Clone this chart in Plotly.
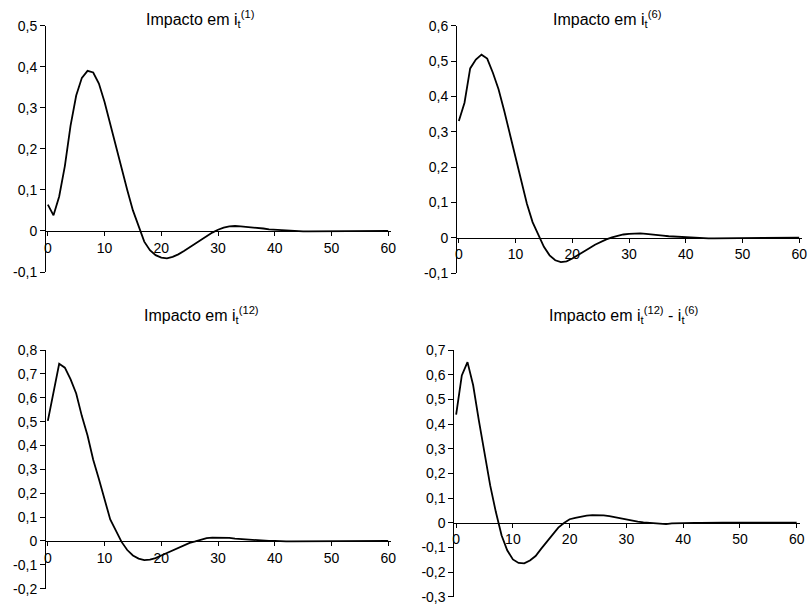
import plotly.graph_objects as go

lags = list(range(61))
x_tick_vals = [0, 10, 20, 30, 40, 50, 60]
x_tick_text = ["0", "10", "20", "30", "40", "50", "60"]

impact_1 = [0.064, 0.038, 0.084, 0.158, 0.256, 0.33, 0.373, 0.39, 0.386, 0.359,
            0.314, 0.26, 0.207, 0.15, 0.10, 0.05, 0.012, -0.026, -0.047, -0.059,
            -0.065, -0.067, -0.063, -0.057, -0.049, -0.04, -0.03, -0.02, -0.012, -0.004,
            0.003, 0.008, 0.011, 0.012, 0.011, 0.01, 0.009, 0.008, 0.006, 0.004,
            0.003, 0.002, 0.001, 0.0] + [-0.001] * 9 + [0.0] * 8
impact_6 = [0.33, 0.382, 0.479, 0.504, 0.518, 0.507, 0.467, 0.42, 0.359, 0.293,
            0.222, 0.157, 0.096, 0.044, 0.007, -0.026, -0.05, -0.064, -0.069, -0.067,
            -0.059, -0.05, -0.04, -0.03, -0.02, -0.012, -0.005, 0.001, 0.006, 0.009,
            0.011, 0.012, 0.012, 0.011, 0.01, 0.008, 0.006, 0.004, 0.003, 0.002,
            0.001, 0.001] + [-0.002] * 6 + [0.0] * 13
impact_12 = [0.503, 0.62, 0.742, 0.726, 0.678, 0.618, 0.523, 0.442, 0.34, 0.26,
             0.172, 0.09, 0.043, -0.004, -0.038, -0.061, -0.074, -0.08, -0.078, -0.072,
             -0.061, -0.05, -0.04, -0.028, -0.017, -0.008, -0.002, 0.006, 0.012, 0.014,
             0.014, 0.014, 0.013, 0.01, 0.008, 0.006, 0.004, 0.003, 0.001, 0.0,
             0.0] + [-0.002] * 5 + [0.0] * 15
impact_spread = [0.438, 0.597, 0.651, 0.557, 0.415, 0.286, 0.151, 0.043, -0.051, -0.112,
                 -0.149, -0.163, -0.165, -0.153, -0.135, -0.105, -0.076, -0.047, -0.02, -0.001,
                 0.014, 0.02, 0.026, 0.029, 0.031, 0.032, 0.03, 0.027, 0.022, 0.017,
                 0.014, 0.01, 0.004, 0.001, -0.001, -0.002, -0.003, -0.006, -0.003, -0.002] \
                + [-0.001] * 4 + [0.0] * 17

y_vals_1 = [-0.1, 0, 0.1, 0.2, 0.3, 0.4, 0.5]
y_text_1 = ["-0,1", "0", "0,1", "0,2", "0,3", "0,4", "0,5"]
y_vals_6 = [-0.1, 0, 0.1, 0.2, 0.3, 0.4, 0.5, 0.6]
y_text_6 = ["-0,1", "0", "0,1", "0,2", "0,3", "0,4", "0,5", "0,6"]
y_vals_12 = [-0.2, -0.1, 0, 0.1, 0.2, 0.3, 0.4, 0.5, 0.6, 0.7, 0.8]
y_text_12 = ["-0,2", "-0,1", "0", "0,1", "0,2", "0,3", "0,4", "0,5", "0,6", "0,7", "0,8"]
y_vals_sp = [-0.3, -0.2, -0.1, 0, 0.1, 0.2, 0.3, 0.4, 0.5, 0.6, 0.7]
y_text_sp = ["-0,3", "-0,2", "-0,1", "0", "0,1", "0,2", "0,3", "0,4", "0,5", "0,6", "0,7"]

titles = ["Impacto em i<sub>t</sub><sup>(1)</sup>",
          "Impacto em i<sub>t</sub><sup>(6)</sup>",
          "Impacto em i<sub>t</sub><sup>(12)</sup>",
          "Impacto em i<sub>t</sub><sup>(12)</sup> - i<sub>t</sub><sup>(6)</sup>"]

W, H = 809, 608
panels = [
    dict(y=impact_1, yv=y_vals_1, yt=y_text_1, xpx=(45, 391), ypx=(25.7, 272), tpos=(200, 19)),
    dict(y=impact_6, yv=y_vals_6, yt=y_text_6, xpx=(456, 802), ypx=(25.7, 273), tpos=(607, 19)),
    dict(y=impact_12, yv=y_vals_12, yt=y_text_12, xpx=(45, 391), ypx=(350, 588.7), tpos=(201, 315)),
    dict(y=impact_spread, yv=y_vals_sp, yt=y_text_sp, xpx=(453.3, 799.5), ypx=(350, 596.7), tpos=(623, 315)),
]

FONT = "Liberation Sans, Arial, sans-serif"
fig = go.Figure()
layout = dict(template="none", width=W, height=H, margin=dict(l=0, r=0, t=0, b=0, pad=0),
              autosize=False,
              paper_bgcolor="white", plot_bgcolor="white", showlegend=False,
              font=dict(family=FONT, size=14, color="black"))
annotations = []
for i, p in enumerate(panels, start=1):
    sfx = "" if i == 1 else str(i)
    xd = [p["xpx"][0] / W, p["xpx"][1] / W]
    yd = [1 - p["ypx"][1] / H, 1 - p["ypx"][0] / H]
    ymin, ymax = p["yv"][0], p["yv"][-1]
    zero_pos = yd[0] + (0 - ymin) / (ymax - ymin) * (yd[1] - yd[0])
    fig.add_trace(go.Scatter(x=lags, y=p["y"], mode="lines",
                             line=dict(color="black", width=1.8),
                             xaxis="x" + sfx, yaxis="y" + sfx, hoverinfo="skip"))
    layout["xaxis" + sfx] = dict(domain=xd, range=[-0.5, 60.5], anchor="free", position=zero_pos,
                                 automargin=False,
                                 showline=True, linecolor="black", linewidth=1,
                                 ticks="outside", ticklen=4, tickcolor="black", tickwidth=1,
                                 tickvals=x_tick_vals, ticktext=x_tick_text,
                                 showgrid=False, zeroline=False,
                                 tickfont=dict(family=FONT, size=14, color="black"))
    layout["yaxis" + sfx] = dict(domain=yd, range=[ymin, ymax], anchor="free", position=xd[0],
                                 automargin=False,
                                 showline=True, linecolor="black", linewidth=1,
                                 ticks="outside", ticklen=5, tickcolor="black", tickwidth=1,
                                 tickvals=p["yv"], ticktext=p["yt"],
                                 showgrid=False, zeroline=False,
                                 tickfont=dict(family=FONT, size=14, color="black"))
    annotations.append(dict(text=titles[i - 1], x=p["tpos"][0] / W, y=1 - p["tpos"][1] / H,
                            xref="paper", yref="paper", xanchor="center", yanchor="middle",
                            showarrow=False, font=dict(family=FONT, size=16, color="black")))
layout["annotations"] = annotations
fig.update_layout(**layout)
fig.write_html("out.html", config={"displayModeBar": False},
               post_script="document.body.style.margin='0';document.body.style.overflow='hidden';")
